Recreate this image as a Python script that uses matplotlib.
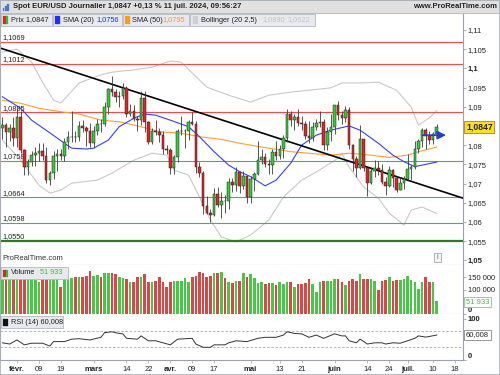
import numpy as np
import pandas as pd
import matplotlib
matplotlib.use('Agg')
import matplotlib.pyplot as plt
from matplotlib.patches import Rectangle

plt.rcParams['font.family'] = ['Liberation Sans', 'DejaVu Sans']

# EUR/USD daily candles, 26 Jan -> 11 Jul 2024
dates = pd.bdate_range('2024-01-26', '2024-07-11')
opens = [1.0844, 1.0853, 1.0834, 1.0845, 1.0818, 1.0874, 1.0787, 1.0742, 1.0755, 1.0774,
         1.0779, 1.0784, 1.0771, 1.0708, 1.0727, 1.0772, 1.0776, 1.0773, 1.0808, 1.0821,
         1.0822, 1.0820, 1.0850, 1.0845, 1.0838, 1.0805, 1.0838, 1.0856, 1.0855, 1.0899,
         1.0947, 1.0938, 1.0925, 1.0927, 1.0949, 1.0882, 1.0889, 1.0869, 1.0866, 1.0922,
         1.0859, 1.0809, 1.0838, 1.0834, 1.0827, 1.0790, 1.0787, 1.0741, 1.0768, 1.0836,
         1.0836, 1.0837, 1.0859, 1.0856, 1.0742, 1.0728, 1.0642, 1.0623, 1.0618, 1.0672,
         1.0643, 1.0655, 1.0654, 1.0703, 1.0697, 1.0730, 1.0693, 1.0719, 1.0665, 1.0713,
         1.0726, 1.0761, 1.0770, 1.0751, 1.0749, 1.0783, 1.0771, 1.0789, 1.0818, 1.0881,
         1.0865, 1.0872, 1.0857, 1.0855, 1.0824, 1.0819, 1.0847, 1.0857, 1.0859, 1.0801,
         1.0833, 1.0848, 1.0904, 1.0878, 1.0870, 1.0892, 1.0801, 1.0765, 1.0741, 1.0815,
         1.0740, 1.0702, 1.0734, 1.0740, 1.0736, 1.0703, 1.0693, 1.0735, 1.0714, 1.0683,
         1.0702, 1.0713, 1.0738, 1.0743, 1.0790, 1.0811, 1.0839, 1.0825, 1.0813, 1.0830]
highs = [1.0872, 1.0857, 1.0854, 1.0873, 1.0897, 1.0889, 1.0790, 1.0765, 1.0784, 1.0796,
         1.0806, 1.0805, 1.0795, 1.0733, 1.0786, 1.0790, 1.0789, 1.0818, 1.0838, 1.0888,
         1.0838, 1.0864, 1.0865, 1.0851, 1.0858, 1.0849, 1.0867, 1.0868, 1.0912, 1.0950,
         1.0981, 1.0947, 1.0940, 1.0963, 1.0955, 1.0906, 1.0904, 1.0875, 1.0942, 1.0942,
         1.0863, 1.0845, 1.0865, 1.0845, 1.0836, 1.0801, 1.0793, 1.0775, 1.0841, 1.0876,
         1.0843, 1.0866, 1.0885, 1.0864, 1.0755, 1.0732, 1.0668, 1.0635, 1.0688, 1.0690,
         1.0677, 1.0669, 1.0714, 1.0714, 1.0742, 1.0730, 1.0733, 1.0720, 1.0720, 1.0731,
         1.0812, 1.0790, 1.0780, 1.0764, 1.0791, 1.0811, 1.0801, 1.0826, 1.0895, 1.0889,
         1.0882, 1.0895, 1.0876, 1.0863, 1.0862, 1.0859, 1.0869, 1.0888, 1.0867, 1.0847,
         1.0882, 1.0905, 1.0916, 1.0889, 1.0902, 1.0899, 1.0804, 1.0771, 1.0852, 1.0817,
         1.0741, 1.0742, 1.0761, 1.0760, 1.0750, 1.0717, 1.0746, 1.0737, 1.0719, 1.0718,
         1.0720, 1.0776, 1.0748, 1.0812, 1.0817, 1.0845, 1.0845, 1.0837, 1.0834, 1.0856]
lows = [1.0817, 1.0796, 1.0811, 1.0797, 1.0795, 1.0780, 1.0723, 1.0723, 1.0745, 1.0746,
        1.0760, 1.0761, 1.0701, 1.0695, 1.0712, 1.0732, 1.0761, 1.0760, 1.0790, 1.0809,
        1.0808, 1.0812, 1.0834, 1.0797, 1.0796, 1.0796, 1.0827, 1.0833, 1.0850, 1.0880,
        1.0927, 1.0912, 1.0900, 1.0920, 1.0874, 1.0875, 1.0863, 1.0836, 1.0852, 1.0835,
        1.0802, 1.0802, 1.0826, 1.0809, 1.0776, 1.0776, 1.0724, 1.0724, 1.0756, 1.0826,
        1.0792, 1.0813, 1.0852, 1.0728, 1.0718, 1.0622, 1.0622, 1.0601, 1.0615, 1.0638,
        1.0611, 1.0624, 1.0635, 1.0677, 1.0681, 1.0675, 1.0685, 1.0650, 1.0649, 1.0680,
        1.0723, 1.0750, 1.0744, 1.0724, 1.0724, 1.0761, 1.0765, 1.0766, 1.0808, 1.0850,
        1.0840, 1.0849, 1.0839, 1.0815, 1.0805, 1.0810, 1.0840, 1.0848, 1.0787, 1.0788,
        1.0812, 1.0829, 1.0866, 1.0856, 1.0859, 1.0791, 1.0732, 1.0717, 1.0739, 1.0734,
        1.0668, 1.0698, 1.0717, 1.0722, 1.0699, 1.0671, 1.0691, 1.0692, 1.0677, 1.0682,
        1.0687, 1.0710, 1.0710, 1.0737, 1.0780, 1.0794, 1.0791, 1.0802, 1.0804, 1.0826]
closes = [1.0853, 1.0834, 1.0845, 1.0818, 1.0874, 1.0787, 1.0742, 1.0755, 1.0774, 1.0779,
          1.0784, 1.0771, 1.0708, 1.0727, 1.0772, 1.0776, 1.0773, 1.0808, 1.0821, 1.0822,
          1.0820, 1.0850, 1.0845, 1.0838, 1.0805, 1.0838, 1.0856, 1.0855, 1.0899, 1.0947,
          1.0938, 1.0925, 1.0927, 1.0949, 1.0882, 1.0889, 1.0869, 1.0866, 1.0922, 1.0859,
          1.0809, 1.0838, 1.0834, 1.0827, 1.0790, 1.0787, 1.0741, 1.0768, 1.0836, 1.0836,
          1.0837, 1.0859, 1.0856, 1.0742, 1.0728, 1.0642, 1.0623, 1.0618, 1.0672, 1.0643,
          1.0655, 1.0654, 1.0703, 1.0697, 1.0730, 1.0693, 1.0719, 1.0665, 1.0713, 1.0726,
          1.0761, 1.0770, 1.0751, 1.0749, 1.0783, 1.0771, 1.0789, 1.0818, 1.0881, 1.0865,
          1.0872, 1.0857, 1.0855, 1.0824, 1.0819, 1.0847, 1.0857, 1.0859, 1.0801, 1.0833,
          1.0848, 1.0904, 1.0878, 1.0870, 1.0892, 1.0801, 1.0765, 1.0741, 1.0815, 1.0740,
          1.0702, 1.0734, 1.0740, 1.0736, 1.0703, 1.0693, 1.0735, 1.0714, 1.0683, 1.0702,
          1.0713, 1.0738, 1.0743, 1.0790, 1.0811, 1.0839, 1.0825, 1.0813, 1.0830, 1.0847]
# volume in thousands
volume = [143, 143, 143, 152, 152, 155, 159, 152, 146, 139,
          129, 146, 150, 142, 142, 142, 109, 152, 155, 146,
          150, 150, 152, 155, 177, 155, 159, 150, 169, 166,
          166, 163, 152, 146, 142, 129, 132, 150, 150, 162,
          132, 132, 136, 150, 132, 109, 129, 133, 133, 133,
          146, 129, 150, 155, 172, 166, 150, 157, 169, 169,
          173, 146, 132, 125, 136, 136, 166, 150, 163, 146,
          128, 132, 122, 125, 125, 118, 129, 122, 129, 129,
          109, 122, 122, 125, 143, 122, 91, 132, 136, 136,
          135, 143, 143, 132, 118, 136, 143, 135, 163, 142,
          142, 142, 136, 98, 135, 139, 150, 136, 139, 139,
          142, 156, 139, 129, 103, 129, 150, 129, 129, 51.933]

# indicator lines, read at a candle index every few bars
sma20_idx = [0, 5, 8, 13, 17, 19, 23, 25, 29, 32, 36, 39, 42, 46, 51, 54, 58, 62, 65, 68,
             72, 75, 79, 82, 86, 90, 95, 98, 103, 107, 110, 113, 115, 119]
sma20_val = [1.0926, 1.0896, 1.0865, 1.0832, 1.0805, 1.0792, 1.0790, 1.0792, 1.0813, 1.0848,
             1.0870, 1.0881, 1.0878, 1.0865, 1.0848, 1.0822, 1.0783, 1.0748, 1.0731, 1.0718,
             1.0694, 1.0709, 1.0753, 1.0800, 1.0826, 1.0839, 1.0850, 1.0839, 1.0805, 1.0774,
             1.0757, 1.0744, 1.0748, 1.0756]
sma50_idx = [0, 5, 10, 16, 21, 27, 32, 38, 43, 49, 54, 60, 65, 68, 73, 79, 84, 90, 95, 101,
             106, 111, 114, 119]
sma50_val = [1.0917, 1.0909, 1.0896, 1.0887, 1.0881, 1.0865, 1.0861, 1.0848, 1.0835, 1.0831,
             1.0822, 1.0815, 1.0805, 1.0800, 1.0792, 1.0783, 1.0779, 1.0774, 1.0779, 1.0774,
             1.0768, 1.0774, 1.0783, 1.0795]
bb_up_idx = [0, 4, 8, 11, 14, 16, 18, 21, 27, 30, 36, 41, 46, 49, 52, 56, 62, 68, 73, 79,
             84, 90, 93, 99, 103, 108, 112, 114, 117, 119]
bb_up_val = [1.1042, 1.1050, 1.1016, 1.0964, 1.0917, 1.0910, 1.0930, 1.0962, 1.0983, 1.0990,
             1.0996, 1.1003, 1.1019, 1.1016, 1.0988, 1.0951, 1.0930, 1.0912, 1.0930, 1.0938,
             1.0943, 1.0949, 1.0962, 1.0962, 1.0964, 1.0943, 1.0899, 1.0852, 1.0871, 1.0890]
bb_lo_idx = [0, 5, 10, 13, 16, 19, 26, 30, 36, 41, 45, 47, 51, 54, 57, 60, 64, 68, 73, 77,
             82, 86, 92, 93, 95, 99, 103, 106, 110, 112, 115, 119]
bb_lo_val = [1.0813, 1.0761, 1.0696, 1.0675, 1.0683, 1.0701, 1.0709, 1.0727, 1.0761, 1.0779,
             1.0774, 1.0735, 1.0722, 1.0665, 1.0605, 1.0561, 1.0548, 1.0566, 1.0605, 1.0665,
             1.0709, 1.0730, 1.0766, 1.0779, 1.0743, 1.0691, 1.0662, 1.0623, 1.0592, 1.0631,
             1.0639, 1.0622]
rsi_idx = [0, 2, 4, 6, 8, 11, 13, 14, 17, 19, 21, 24, 27, 28, 30, 32, 33, 34, 37, 38,
           40, 42, 44, 46, 48, 52, 53, 55, 57, 58, 61, 62, 64, 67, 70, 72, 75, 77, 78, 80,
           82, 84, 86, 88, 91, 93, 94, 95, 97, 98, 100, 102, 104, 105, 107, 109, 111, 113,
           114, 116, 119]
rsi_val = [41, 38, 48, 36, 40, 40, 33, 44, 44, 50, 51, 48, 54.5, 66, 68, 64, 63, 52, 50, 58,
           46, 46, 41, 36, 50, 52, 38, 30, 30, 36, 36, 41, 46, 44, 52, 54.5, 54.5, 60, 68, 64,
           63, 54.5, 60, 52, 63, 58, 58, 46, 41, 50, 38, 41, 41, 38, 41, 40, 46, 52,
           58, 55, 60.008]

# drawn levels and trend line
red_levels = [1.1069, 1.1012, 1.0885]
green_levels = [1.0758, 1.0664, 1.0598]
support_level = 1.0550
trend_idx = [-0.66, 126.2]
trend_val = [1.1053, 1.0662]

tick_days = ['2024-02-01', '2024-02-09', '2024-02-19', '2024-03-01', '2024-03-14', '2024-03-22',
             '2024-04-01', '2024-04-09', '2024-04-17', '2024-05-01', '2024-05-13', '2024-05-21',
             '2024-06-03', '2024-06-14', '2024-06-24', '2024-07-01', '2024-07-10', '2024-07-18']
tick_names = ['févr.', '09', '19', 'mars', '14', '22', 'avr.', '09', '17', 'mai', '13', '21',
              'juin', '14', '24', 'juil.', '10', '18']

W, H = 500, 375
fig = plt.figure(figsize=(5, 3.75), dpi=100)
fig.patch.set_facecolor('white')


def fpos(x, y):
    return x / W, 1 - y / H


def box(x0, y0, x1, y1, fc, ec, lw=0.6):
    r = Rectangle(fpos(x0, y1), (x1 - x0) / W, (y1 - y0) / H, transform=fig.transFigure,
                  fc=fc, ec=ec, lw=lw, zorder=5)
    fig.add_artist(r)


def ftext(x, y, s, **kw):
    kw.setdefault('fontsize', 5.5)
    kw.setdefault('va', 'center')
    kw.setdefault('zorder', 6)
    fig.text(*fpos(x, y), s, **kw)


ax_p = fig.add_axes([0, 1 - 265 / H, 463 / W, 252 / H])
ax_v = fig.add_axes([0, 1 - 314 / H, 463 / W, 49 / H], sharex=ax_p)
ax_r = fig.add_axes([0, 1 - 360 / H, 463 / W, 46 / H], sharex=ax_p)

spine_col = '#9aa3ad'
for ax in (ax_p, ax_v, ax_r):
    for s in ax.spines.values():
        s.set_color(spine_col)
        s.set_linewidth(0.8)
    ax.spines['top'].set_visible(False)
    ax.yaxis.tick_right()
    ax.tick_params(axis='y', labelsize=5.5, length=2, width=0.6, color=spine_col, pad=1.5,
                   labelcolor='#222222')
    ax.tick_params(axis='x', length=0)

pos = np.arange(len(closes))
o = np.array(opens)
c = np.array(closes)
up = c >= o

# price panel
ax_p.plot(bb_up_idx, bb_up_val, color='#c9c9c9', lw=0.8, zorder=1)
ax_p.plot(bb_lo_idx, bb_lo_val, color='#c9c9c9', lw=0.8, zorder=1)
for lv in red_levels:
    ax_p.axhline(lv, color='#ff4646', lw=0.8, zorder=1)
for lv in green_levels:
    ax_p.axhline(lv, color='#55aa55', lw=0.8, zorder=1)
ax_p.axhline(support_level, color='#2a7a2a', lw=1.6, zorder=1)
for lv in red_levels + green_levels + [support_level]:
    ax_p.annotate(f'{lv:.4f}'.replace('.', ','), xy=(0, lv),
                  xycoords=('axes fraction', 'data'), xytext=(2, 0.6),
                  textcoords='offset points', fontsize=5.3, color='#222222', va='bottom')
ax_p.plot(sma50_idx, sma50_val, color='#ffa030', lw=0.8, zorder=2)
ax_p.plot(sma20_idx, sma20_val, color='#3340ff', lw=0.8, zorder=2)
ax_p.plot(trend_idx, trend_val, color='black', lw=1.2, zorder=2)

ax_p.vlines(pos, lows, highs, color='#3a3a3a', lw=0.6, zorder=3)
ax_p.bar(pos, np.maximum(np.abs(c - o), 0.00012), bottom=np.minimum(o, c), width=0.7,
         color=np.where(up, '#33cc33', '#e02424'), edgecolor='#202020', linewidth=0.35,
         zorder=4)
ax_p.annotate('', xy=(122.3, 1.0826), xytext=(114.3, 1.0826),
              arrowprops=dict(arrowstyle='-|>,head_length=0.5,head_width=0.25',
                              color='#2a3ad8', lw=1.2), zorder=5)

ax_p.set_xlim(-0.66, 126.2)
ax_p.set_ylim(1.0488, 1.1144)
pticks = [1.05, 1.055, 1.06, 1.065, 1.07, 1.075, 1.08, 1.09, 1.095, 1.1, 1.105, 1.11]
ax_p.set_yticks(pticks)
ax_p.set_yticklabels([f'{v:g}'.replace('.', ',') for v in pticks])
for lab, v in zip(ax_p.get_yticklabels(), pticks):
    if v in (1.05, 1.1):
        lab.set_fontweight('bold')
plt.setp(ax_p.get_xticklabels(), visible=False)

# volume panel
ax_v.bar(pos, np.array(volume) * 1000, width=0.72,
         color=np.where(up, '#46c846', '#d84848'), linewidth=0)
ax_v.set_ylim(0, 200000)
ax_v.set_yticks([0, 100000, 150000])
ax_v.set_yticklabels(['0', '100 000', '150 000'])
vl = ax_v.get_yticklabels()
vl[0].set_fontweight('bold')
vl[0].set_va('bottom')
plt.setp(ax_v.get_xticklabels(), visible=False)

# RSI panel
ax_r.axhline(70, color='#aaaaaa', lw=0.6, ls=(0, (3, 2)))
ax_r.axhline(30, color='#aaaaaa', lw=0.6, ls=(0, (3, 2)))
ax_r.plot(rsi_idx, rsi_val, color='#333333', lw=0.7)
ax_r.set_ylim(-1.2, 111.7)
ax_r.set_yticks([0, 100])
ax_r.set_yticklabels(['0', '100'])
rl = ax_r.get_yticklabels()
for lab in rl:
    lab.set_fontweight('bold')
rl[0].set_va('bottom')

all_days = pd.bdate_range(dates[0], '2024-07-18')
day_pos = {d: i for i, d in enumerate(all_days)}
ax_r.set_xticks([day_pos[pd.Timestamp(d)] for d in tick_days])
ax_r.set_xticklabels(tick_names)
ax_r.tick_params(axis='x', labelsize=5.5, pad=2.5, labelcolor='#222222', length=2,
                 color=spine_col, width=0.5)
for lab, name in zip(ax_r.get_xticklabels(), tick_names):
    if not name.isdigit():
        lab.set_fontweight('bold')

# title bar
box(0, 0, 500, 13, '#e0e0e0', '#b4b4b4')
for k, hgt in enumerate([3, 5, 7]):
    box(3 + 2.2 * k, 11 - hgt, 4.4 + 2.2 * k, 11, '#3f78d0', '#3f78d0', lw=0.2)
ftext(13, 7, 'Spot EUR/USD Journalier 1,0847 +0,13 % 11 juil. 2024, 09:56:27',
      fontweight='bold', color='#222222')
ftext(497, 7, 'www.ProRealTime.com', fontweight='bold', color='#222222', ha='right')

# legend row of the price panel
leg_bg, leg_ec = '#e6e9ed', '#b3b9c2'
box(1, 14, 52, 26, leg_bg, leg_ec)
box(3, 16.5, 5.5, 23.5, '#e02424', '#e02424', lw=0.2)
box(5.5, 16.5, 8, 23.5, '#33bb33', '#33bb33', lw=0.2)
ftext(11, 20, 'Prix 1,0847', color='#222222', fontsize=5.3)
box(53, 14, 122, 26, leg_bg, leg_ec)
box(55, 16.5, 60, 23.5, '#1f2cff', '#1f2cff', lw=0.2)
ftext(63, 20, 'SMA (20)', color='#222222', fontsize=5.3)
ftext(96, 20, '1,0756', color='#2230ee', fontsize=5.3)
box(123, 14, 189, 26, leg_bg, leg_ec)
box(125, 16.5, 130, 23.5, '#ff9a1a', '#ff9a1a', lw=0.2)
ftext(132, 20, 'SMA (50)', color='#222222', fontsize=5.3)
ftext(162, 20, '1,0795', color='#ff9a1a', fontsize=5.3)
box(190, 14, 315, 26, leg_bg, leg_ec)
box(193, 16.5, 198, 23.5, '#cfcfcf', '#cfcfcf', lw=0.2)
ftext(201, 20, 'Bollinger (20 2,5)', color='#222222', fontsize=5.3)
ftext(262, 20, '1,0890', color='#c4c4c4', fontsize=5.3)
ftext(287, 20, '1,0622', color='#c4c4c4', fontsize=5.3)

# last price marker
ftext(466, 127, '1,0847', fontweight='bold', fontsize=6.2, color='#222222',
      bbox=dict(boxstyle='square,pad=0.2', fc='#ffde1a', ec='#9a8a30', lw=0.6))

ftext(2, 258, 'ProRealTime.com', color='#333333')
box(434, 253, 441, 262, '#f4f4f4', '#9a9a9a', lw=0.5)
ftext(437.5, 257.5, 'i', color='#666666', ha='center', fontsize=5)

# volume and RSI panel legends
box(1, 267, 68, 279, leg_bg, leg_ec)
box(3, 269.5, 5.5, 276.5, '#e02424', '#e02424', lw=0.2)
box(5.5, 269.5, 8, 276.5, '#33bb33', '#33bb33', lw=0.2)
ftext(11, 273, 'Volume', color='#222222', fontsize=5.3)
ftext(40, 273, '51 933', color='#44bb44', fontsize=5.3)
ftext(466, 302, '51 933', color='#44bb44',
      bbox=dict(boxstyle='square,pad=0.2', fc='white', ec='#77cc77', lw=0.6))

box(1, 316, 63, 328, leg_bg, leg_ec)
box(3, 318.5, 8, 325.5, '#111111', '#111111', lw=0.2)
ftext(11, 322, 'RSI (14) 60,008', color='#222222', fontsize=5.3)
ftext(466, 335, '60,008', color='#222222',
      bbox=dict(boxstyle='square,pad=0.2', fc='white', ec='#888888', lw=0.6))

# outer frame
fig.add_artist(Rectangle((0, 0), 1, 1, transform=fig.transFigure, fill=False,
                         ec='#a8b0ba', lw=1.2, zorder=7))

fig.savefig('out.png', dpi=100)
